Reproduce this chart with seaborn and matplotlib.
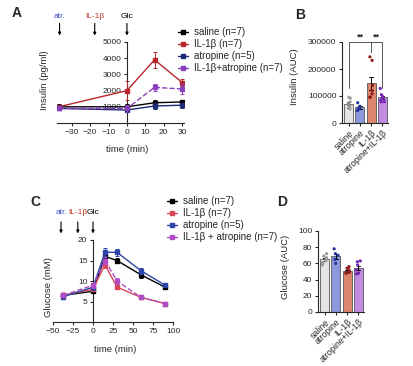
import matplotlib
matplotlib.use("Agg")
import matplotlib.pyplot as plt
from matplotlib.lines import Line2D
import seaborn as sns
import pandas as pd

# ---- data ----
groups = ["saline", "IL-1β", "atropine", "IL-1β+atropine"]
legend_n = ["(n=7)", "(n=7)", "(n=5)", "(n=7)"]

ins_time = [-37, 0, 15, 30]
ins_saline = [1000, 1000, 1250, 1300]
ins_il1b = [1000, 2000, 3900, 2500]
ins_atr = [900, 800, 1050, 1100]
ins_combo = [900, 900, 2200, 2100]
ins_saline_se = [150, 200, 200, 150]
ins_il1b_se = [100, 600, 500, 200]
ins_atr_se = [100, 150, 200, 150]
ins_combo_se = [100, 200, 200, 300]

glc_time = [-37, 0, 15, 30, 60, 90]
glc_saline = [6.5, 7.5, 16.0, 15.0, 11.5, 8.5]
glc_il1b = [6.5, 8.0, 14.0, 8.5, 6.0, 4.5]
glc_atr = [6.2, 8.5, 17.0, 17.0, 12.5, 9.0]
glc_combo = [6.5, 9.0, 15.0, 10.0, 6.0, 4.5]
glc_saline_se = [0.4, 0.5, 0.8, 0.7, 0.7, 0.4]
glc_il1b_se = [0.4, 0.5, 0.8, 0.5, 0.3, 0.3]
glc_atr_se = [0.4, 0.6, 1.0, 0.9, 0.7, 0.4]
glc_combo_se = [0.4, 0.6, 0.8, 0.7, 0.3, 0.3]

bar_groups = ["saline", "atropine", "IL-1β", "atropine+IL-1β"]
auc_ins_saline = [95000, 92000, 78000, 70000, 62000, 55000, 52000]
auc_ins_atr = [75000, 62000, 55000, 52000, 46000]
auc_ins_il1b = [245000, 232000, 140000, 120000, 108000, 95000, 96000]
auc_ins_combo = [128000, 105000, 98000, 92000, 85000, 78000, 79000]

auc_glc_saline = [72, 69, 67, 65, 63, 61, 58]
auc_glc_atr = [78, 72, 70, 65, 60]
auc_glc_il1b = [56, 54, 52, 50, 49, 48, 48]
auc_glc_combo = [63, 62, 58, 52, 48, 47, 48]

# ---- style ----
sns.set_style("ticks")
plt.rcParams["font.family"] = ["Liberation Sans", "DejaVu Sans"]
plt.rcParams["axes.linewidth"] = 0.8
plt.rcParams["xtick.major.width"] = 0.8
plt.rcParams["ytick.major.width"] = 0.8
plt.rcParams["xtick.major.size"] = 2.5
plt.rcParams["ytick.major.size"] = 2.5

W, H = 414, 366
fig = plt.figure(figsize=(W / 100, H / 100), dpi=100)


def px_axes(l, t, r, b):
    return fig.add_axes([l / W, 1 - b / H, (r - l) / W, (b - t) / H])


tick_fs = 6
lab_fs = 6.8
leg_fs = 7

line_cols_a = ["black", "#b8262b", "#1c2a78", "#8a3fc0"]
line_cols_c = ["black", "#d9475a", "#2f44a8", "#b04cc4"]
bar_cols = ["#e4e4e4", "#7f8fe6", "#ee7b5c", "#c47ff2"]
dot_cols = ["#9a9a9a", "#23339a", "#8b1a1a", "#7426b0"]


def line_panel(ax, t, series, errs, cols):
    for i, (y, e) in enumerate(zip(series, errs)):
        ls = "--" if i == 3 else "-"
        ax.errorbar(t, y, yerr=e, color=cols[i], ls=ls, lw=1, marker="s",
                    ms=2.2, capsize=1.5, elinewidth=0.7, capthick=0.7,
                    zorder=3 + i)
    sns.despine(ax=ax)
    ax.spines["left"].set_position(("data", 0))
    ax.tick_params(labelsize=tick_fs, pad=1.5)


def arrows(ax, xs, labels, cols, y0, y1, yl):
    for x, lab, c in zip(xs, labels, cols):
        ax.annotate("", xy=(x, y1), xytext=(x, y0),
                    xycoords=("data", "axes fraction"),
                    textcoords=("data", "axes fraction"),
                    arrowprops=dict(arrowstyle="-|>", color="black", lw=0.8,
                                    mutation_scale=4, shrinkA=0, shrinkB=0),
                    annotation_clip=False)
        ax.text(x, yl, lab, color=c, fontsize=6, ha="center", va="center",
                transform=ax.get_xaxis_transform(), clip_on=False)


def legend(cols, labels, x, y):
    handles = []
    for i, c in enumerate(cols):
        handles.append(Line2D([], [], color=c, lw=1, ls="-", marker="s", ms=2.2))
    fig.legend(handles, labels, loc="upper left",
               bbox_to_anchor=(x / W, 1 - y / H), frameon=False,
               fontsize=leg_fs, handlelength=1.0, handletextpad=0.6,
               labelspacing=0.22, borderpad=0, borderaxespad=0)


def bar_panel(ax, values, ylim, yticks):
    rows = []
    for g, vals in zip(bar_groups, values):
        for v in vals:
            rows.append({"group": g, "value": v})
    df = pd.DataFrame(rows)
    sns.barplot(data=df, x="group", y="value", hue="group", order=bar_groups,
                palette=bar_cols, errorbar="se", capsize=0.3, width=0.8,
                edgecolor="#555555", linewidth=0.6, err_kws={"linewidth": 0.7,
                                                             "color": "black"},
                legend=False, ax=ax)
    sns.stripplot(data=df, x="group", y="value", hue="group",
                  order=bar_groups, palette=dot_cols, size=2.3, jitter=0.22,
                  legend=False, ax=ax, zorder=5)
    ax.set_xlim(-0.6, 3.5)
    ax.set_ylim(*ylim)
    ax.set_yticks(yticks)
    ax.set_xlabel("")
    sns.despine(ax=ax)
    ax.tick_params(labelsize=tick_fs, pad=1.5)
    ax.set_xticks(range(4))
    ax.set_xticklabels(bar_groups, rotation=45, ha="right",
                       rotation_mode="anchor", fontsize=6.3)


# ---- A ----
axA = px_axes(57, 42, 184, 123)
line_panel(axA, ins_time, [ins_saline, ins_il1b, ins_atr, ins_combo],
           [ins_saline_se, ins_il1b_se, ins_atr_se, ins_combo_se], line_cols_a)
axA.set_xlim(-38, 31)
axA.set_ylim(0, 5000)
axA.set_yticks([1000, 2000, 3000, 4000, 5000])
axA.set_xticks([-30, -20, -10, 0, 10, 20, 30])
axA.set_ylabel("Insulin (pg/ml)", fontsize=lab_fs)
axA.yaxis.set_label_coords(-0.06, 0.53)
axA.set_xlabel("time (min)", fontsize=lab_fs)
axA.xaxis.set_label_coords(0.55, -0.27)
arrows(axA, [-36.6, -17.5, 0], ["atr.", "IL-1β", "Glc"],
       ["#3b4cc0", "#c0392b", "black"], 1.23, 1.08, 1.31)
legend(line_cols_a, [f"{g} {n}" for g, n in zip(groups, legend_n)], 178, 27)

# ---- B ----
axB = px_axes(342, 42, 388, 123)
bar_panel(axB, [auc_ins_saline, auc_ins_atr, auc_ins_il1b, auc_ins_combo],
          (0, 300000), [0, 100000, 200000, 300000])
axB.set_ylabel("Insulin (AUC)", fontsize=lab_fs)
axB.yaxis.set_label_coords(-0.93, 0.57)
# significance brackets
axB.plot([0, 0, 2, 2], [130000, 300000, 300000, 262000], color="#555555",
         lw=0.7, clip_on=False)
axB.plot([2, 3, 3], [300000, 300000, 130000], color="#555555", lw=0.7,
         clip_on=False)
axB.text(1, 302000, "**", ha="center", va="bottom", fontsize=6.5,
         fontweight="bold")
axB.text(2.5, 302000, "**", ha="center", va="bottom", fontsize=6.5,
         fontweight="bold")

# ---- C ----
axC = px_axes(53, 240, 173, 322)
line_panel(axC, glc_time, [glc_saline, glc_il1b, glc_atr, glc_combo],
           [glc_saline_se, glc_il1b_se, glc_atr_se, glc_combo_se], line_cols_c)
axC.set_xlim(-50, 100)
axC.set_ylim(0, 20)
axC.set_yticks([5, 10, 15, 20])
axC.set_xticks([-50, -25, 0, 25, 50, 75, 100])
axC.set_ylabel("Glucose (mM)", fontsize=lab_fs)
axC.yaxis.set_label_coords(0.0, 0.43)
axC.set_xlabel("time (min)", fontsize=lab_fs)
axC.xaxis.set_label_coords(0.52, -0.28)
arrows(axC, [-40, -19, 0], ["atr.", "IL-1β", "Glc"],
       ["#3b4cc0", "#c0392b", "black"], 1.22, 1.08, 1.34)
legend(line_cols_c, ["saline (n=7)", "IL-1β (n=7)", "atropine (n=5)",
                     "IL-1β + atropine (n=7)"], 167, 196)

# ---- D ----
axD = px_axes(318, 231, 364, 312)
bar_panel(axD, [auc_glc_saline, auc_glc_atr, auc_glc_il1b, auc_glc_combo],
          (0, 100), [0, 20, 40, 60, 80, 100])
axD.set_ylabel("Glucose (AUC)", fontsize=lab_fs)
axD.yaxis.set_label_coords(-0.6, 0.56)

# panel letters
for lab, x, y in [("A", 17, 13), ("B", 300, 15), ("C", 35, 202), ("D", 282, 202)]:
    fig.text(x / W, 1 - y / H, lab, fontsize=10, fontweight="bold",
             ha="center", va="center")

fig.savefig("out.png", dpi=100)
